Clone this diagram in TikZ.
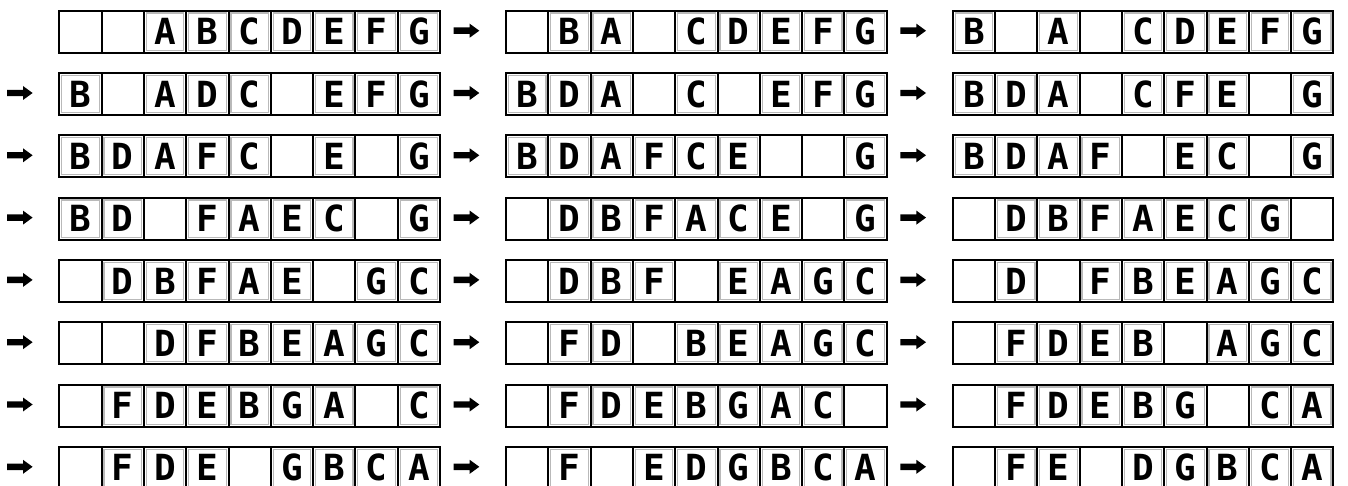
\documentclass[tikz,border=0pt]{standalone}
\usepackage{fontspec}
\setmonofont{DejaVu Sans Mono}
\begin{document}
\begin{tikzpicture}[x=1pt,y=-1pt,
  cellbox/.style={draw=black, line width=2pt, fill=white, minimum width=42.3pt,
    minimum height=42pt, inner sep=0pt, font=\ttfamily\fontsize{36}{36}\selectfont},
  fullcell/.style={cellbox, path picture={\draw[gray!55, line width=1.2pt]
    ([shift={(2.4pt,2.4pt)}]path picture bounding box.south west) rectangle
    ([shift={(-2.4pt,-2.4pt)}]path picture bounding box.north east);}},
  fatarrow/.pic={\fill[black] (0,-3.2) -- (16,-3.2) -- (16,-7) -- (25.6,0)
    -- (16,7) -- (16,3.2) -- (0,3.2) -- cycle;}
]
\useasboundingbox (0,0) rectangle (1348,486);
\foreach \rowi/\arri/\Za/\Zb/\Zc/\Zd/\Ze/\Zf/\Zg/\Zh/\Zi in {
  0/0/-/-/A/B/C/D/E/F/G, 0/1/-/B/A/-/C/D/E/F/G, 0/2/B/-/A/-/C/D/E/F/G,
  1/0/B/-/A/D/C/-/E/F/G, 1/1/B/D/A/-/C/-/E/F/G, 1/2/B/D/A/-/C/F/E/-/G,
  2/0/B/D/A/F/C/-/E/-/G, 2/1/B/D/A/F/C/E/-/-/G, 2/2/B/D/A/F/-/E/C/-/G,
  3/0/B/D/-/F/A/E/C/-/G, 3/1/-/D/B/F/A/C/E/-/G, 3/2/-/D/B/F/A/E/C/G/-,
  4/0/-/D/B/F/A/E/-/G/C, 4/1/-/D/B/F/-/E/A/G/C, 4/2/-/D/-/F/B/E/A/G/C,
  5/0/-/-/D/F/B/E/A/G/C, 5/1/-/F/D/-/B/E/A/G/C, 5/2/-/F/D/E/B/-/A/G/C,
  6/0/-/F/D/E/B/G/A/-/C, 6/1/-/F/D/E/B/G/A/C/-, 6/2/-/F/D/E/B/G/-/C/A,
  7/0/-/F/D/E/-/G/B/C/A, 7/1/-/F/-/E/D/G/B/C/A, 7/2/-/F/E/-/D/G/B/C/A} {
  \foreach \cch [count=\ci] in {\Za,\Zb,\Zc,\Zd,\Ze,\Zf,\Zg,\Zh,\Zi} {
    \pgfmathsetmacro\cx{59.3+446.7*\arri+42.3*(\ci-0.5)}
    \pgfmathsetmacro\cy{31.7+62.3*\rowi}
    \if\cch-
      \node[cellbox] (c\rowi\arri\ci) at (\cx,\cy) {};
    \else
      \node[fullcell] (c\rowi\arri\ci) at (\cx,\cy) {\raisebox{-1.5pt}{\bfseries\cch}};
    \fi
  }
}
\foreach \rowi in {0,...,7} {
  \foreach \arri in {0,1} {
    \pic at ([xshift=12.7pt,yshift=1pt]c\rowi\arri9.east) {fatarrow};
  }
}
\foreach \rowi in {1,...,7} {
  \pic at ([xshift=-51.3pt,yshift=1pt]c\rowi01.west) {fatarrow};
}
\end{tikzpicture}
\end{document}
